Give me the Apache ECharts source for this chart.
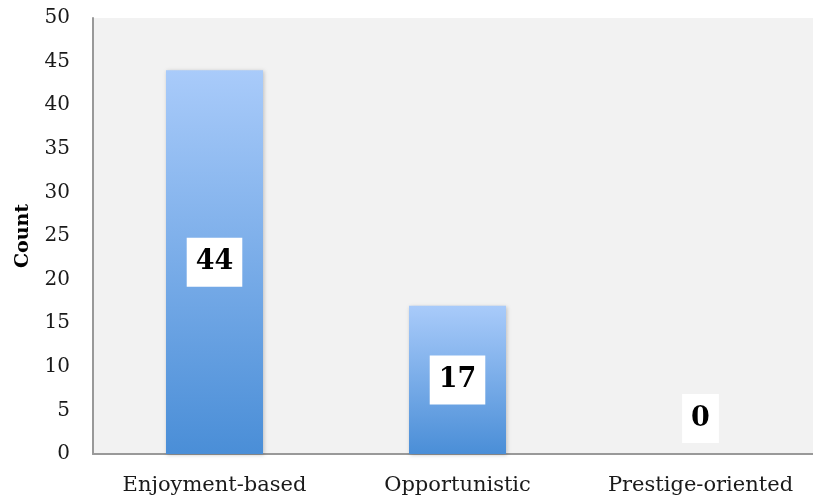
<!DOCTYPE html>
<html>
<head>
<meta charset="utf-8">
<script src="https://cdn.jsdelivr.net/npm/echarts@6/dist/echarts.min.js"></script>
<style>
  html, body { margin: 0; padding: 0; background: #ffffff; }
  #chart { width: 813px; height: 503px; }
</style>
</head>
<body>
<div id="chart"></div>
<script>
// Motivation categories and their counts
const categories = ['Enjoyment-based', 'Opportunistic', 'Prestige-oriented'];
const counts = [44, 17, 0];
const yTicks = { min: 0, max: 50, interval: 5 };

const serif = '"DejaVu Serif", "Liberation Serif", serif';

const barFill = new echarts.graphic.LinearGradient(0, 0, 0, 1, [
  { offset: 0, color: '#a9cbfa' },
  { offset: 1, color: '#4a8ed7' }
]);

// a zero-height bar gets its label lifted just above the axis
const seriesData = counts.map(function (v) {
  const item = { value: v };
  if (v === 0) {
    item.label = { position: 'top', distance: 11 };
  }
  return item;
});

const chart = echarts.init(document.getElementById('chart'), null, { renderer: 'canvas' });
chart.setOption({
  animation: false,
  // plot runs slightly past the right edge of the canvas
  grid: {
    left: 93, width: 729, top: 18, bottom: 49,
    outerBoundsMode: 'none',
    containLabel: false,
    show: true, backgroundColor: '#f2f2f2', borderWidth: 0
  },
  xAxis: {
    type: 'category',
    data: categories,
    axisLine: { lineStyle: { color: '#999999', width: 2 } },
    axisTick: { show: false },
    axisLabel: { interval: 0, color: '#1a1a1a', fontFamily: serif, fontSize: 21, margin: 21 }
  },
  yAxis: {
    type: 'value',
    min: yTicks.min,
    max: yTicks.max,
    interval: yTicks.interval,
    name: 'Count',
    nameLocation: 'middle',
    nameGap: 60,
    nameTextStyle: { fontFamily: serif, fontWeight: 'bold', fontSize: 19, color: '#000' },
    axisLine: { show: true, lineStyle: { color: '#999999', width: 2 } },
    axisTick: { show: false },
    splitLine: { show: false },
    axisLabel: { color: '#1a1a1a', fontFamily: serif, fontSize: 20, margin: 23 }
  },
  series: [{
    type: 'bar',
    data: seriesData,
    barWidth: 97,
    itemStyle: {
      color: barFill,
      shadowColor: 'rgba(0,0,0,0.22)',
      shadowBlur: 4,
      shadowOffsetX: 1,
      shadowOffsetY: 1
    },
    label: {
      show: true,
      position: 'inside',
      fontFamily: serif,
      fontWeight: 'bold',
      fontSize: 27,
      lineHeight: 28,
      color: '#000',
      backgroundColor: '#ffffff',
      padding: [11, 9, 10, 9]
    }
  }]
});
</script>
</body>
</html>
